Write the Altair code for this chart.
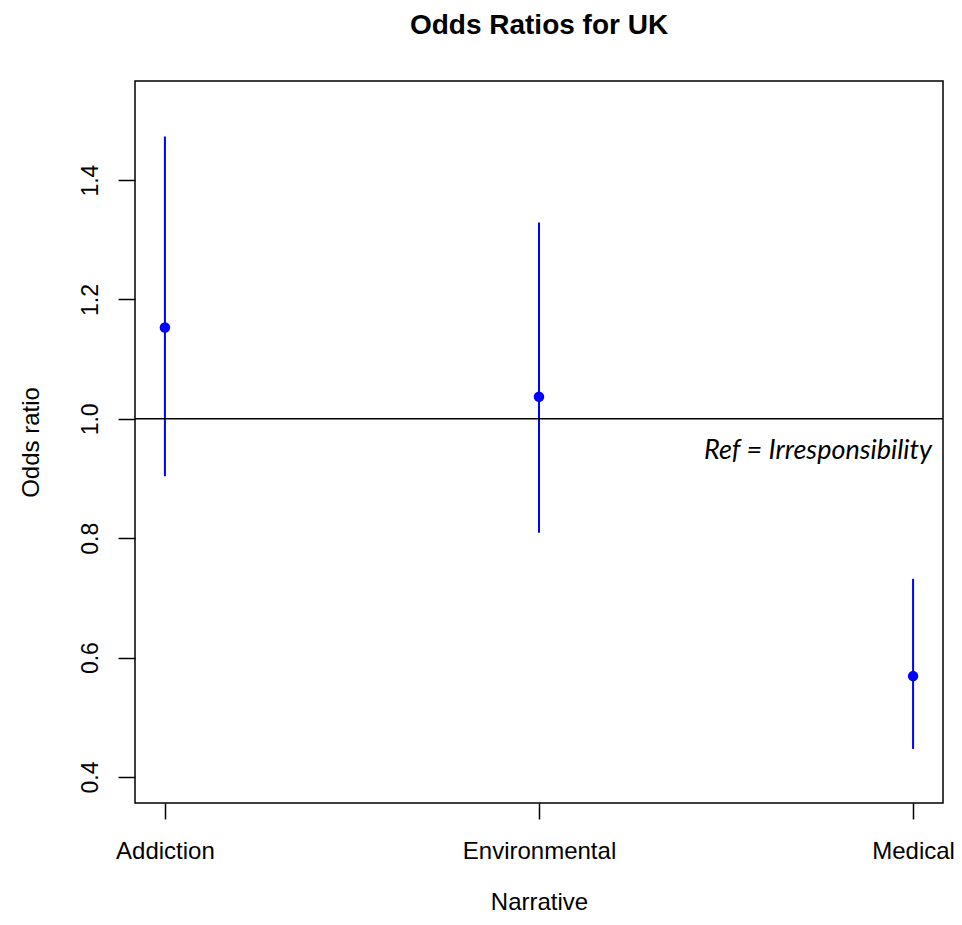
import altair as alt
import pandas as pd

narratives = ["Addiction", "Environmental", "Medical"]
odds = [1.153, 1.037, 0.569]
lower = [0.904, 0.809, 0.447]
upper = [1.473, 1.329, 0.732]
y_ticks = [0.4, 0.6, 0.8, 1.0, 1.2, 1.4]
ref_value = 1.0
note_text = "Ref = Irresponsibility"
note_y = 0.946

df = pd.DataFrame({"Narrative": narratives, "odds": odds, "lo": lower, "hi": upper})

x_enc = alt.X(
    "Narrative:N",
    sort=narratives,
    scale=alt.Scale(type="point", padding=0.08),
    axis=alt.Axis(
        title="Narrative", labelAngle=0, labelFontSize=24, labelFont="Liberation Sans",
        labelColor="black", tickSize=16, tickColor="black", tickWidth=1.5,
        labelPadding=20, domain=False, grid=False, titleFontSize=24,
        titleFont="Liberation Sans", titleFontWeight="normal", titleColor="black",
        titlePadding=27,
    ),
)
y_scale = alt.Scale(domain=[0.3564, 1.566], nice=False, zero=False)
y_axis = alt.Axis(
    title="Odds ratio", values=y_ticks, format=".1f", labelAngle=270,
    labelAlign="center", labelBaseline="bottom", labelFontSize=23,
    labelFont="Liberation Sans", labelColor="black", tickSize=17, tickColor="black",
    tickWidth=1.5, labelPadding=16, domain=False, grid=False, titleFontSize=24,
    titleFont="Liberation Sans", titleFontWeight="normal", titleColor="black",
    titlePadding=36,
)

base = alt.Chart(df)

bars = base.mark_rule(color="#0000FF", strokeWidth=2).encode(
    x=x_enc,
    y=alt.Y("lo:Q", scale=y_scale, axis=y_axis),
    y2="hi:Q",
)
points = base.mark_circle(color="#0000FF", opacity=1, size=110).encode(
    x=alt.X("Narrative:N", sort=narratives),
    y=alt.Y("odds:Q"),
)
ref = alt.Chart(pd.DataFrame({"ref": [ref_value]})).mark_rule(
    color="black", strokeWidth=1.5
).encode(y="ref:Q")
note = alt.Chart(pd.DataFrame({"Narrative": [narratives[-1]], "y": [note_y], "t": [note_text]})).mark_text(
    align="right", baseline="middle", font="Lato", fontStyle="italic", fontSize=27,
    color="black", dx=19,
).encode(x=alt.X("Narrative:N", sort=narratives), y="y:Q", text="t:N")

chart = alt.layer(bars, ref, points, note).properties(
    width=808, height=722,
    title=alt.TitleParams(
        "Odds Ratios for UK", fontSize=28, font="Liberation Sans", fontWeight="bold",
        color="black", anchor="middle", offset=41,
    ),
    autosize=alt.AutoSizeParams(type="none"),
    padding={"left": 127, "top": 73, "right": 11, "bottom": 112},
).configure(
    background="white",
    view=alt.ViewConfig(stroke="black", strokeWidth=1.5),
)

chart.save("out.html", embed_options={"renderer": "svg", "actions": False})
